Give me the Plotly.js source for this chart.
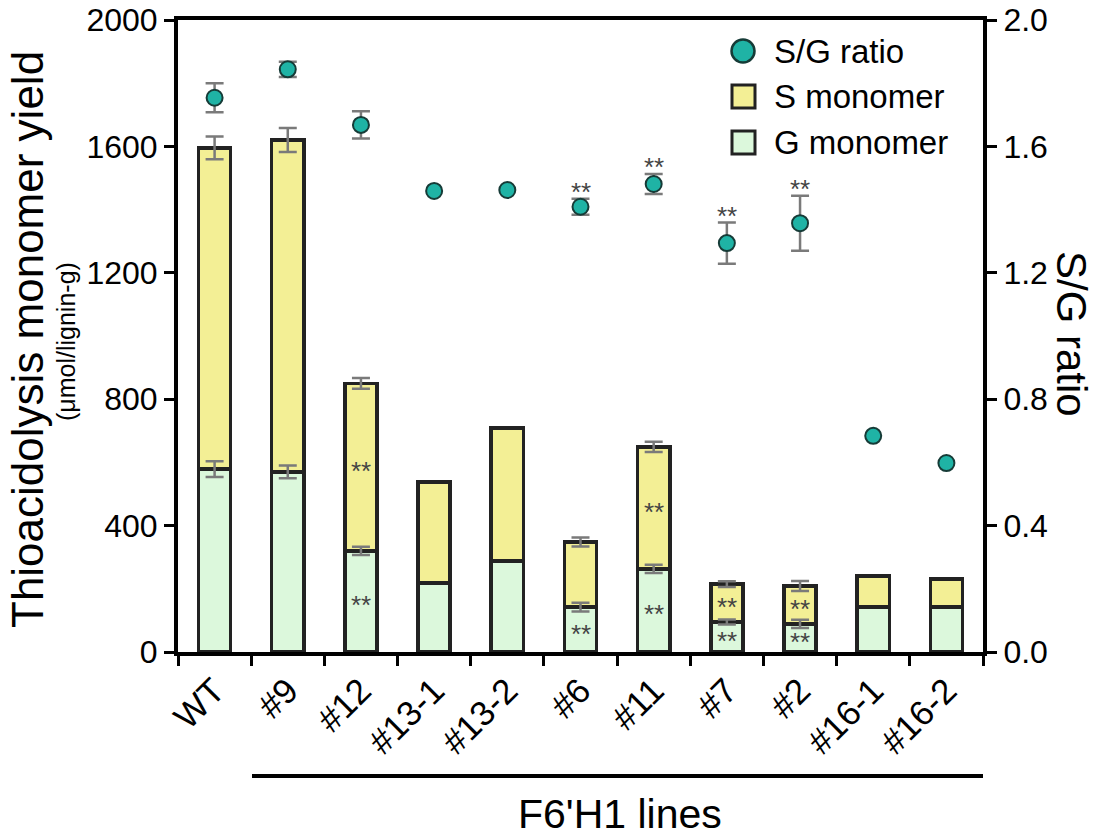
<!DOCTYPE html>
<html>
<head>
<meta charset="utf-8">
<script src="https://cdn.plot.ly/plotly-3.0.1.min.js"></script>
<style>
  html, body { margin: 0; padding: 0; background: #fff; }
  #chart { width: 1099px; height: 839px; }
</style>
</head>
<body>
<div id="chart"></div>
<script>
// lines
const lines = ['WT', '#9', '#12', '#13-1', '#13-2', '#6', '#11', '#7', '#2', '#16-1', '#16-2']

// thioacidolysis monomers, umol/lignin-g
const gMonomer = [579, 570, 320, 218, 288, 142, 263, 95, 89, 142, 142]
const gErr = [25, 20, 13, 0, 0, 14, 13, 8, 13, 0, 0]
const sMonomer = [1016, 1050, 530, 320, 421, 206, 386, 120, 120, 98, 89]
const sErr = [36, 38, 17, 0, 0, 14, 16, 9, 16, 0, 0]

// S/G ratio
const sgRatio = [1.754, 1.844, 1.668, 1.459, 1.462, 1.409, 1.481, 1.294, 1.357, 0.684, 0.598]
const sgErr = [0.046, 0.024, 0.043, 0, 0, 0.025, 0.032, 0.065, 0.087, 0, 0]

// significance (**)
const gSig = [false, false, true, false, false, true, true, true, true, false, false]
const sSig = [false, false, true, false, false, false, true, true, true, false, false]
const sgSig = [false, false, false, false, false, true, true, true, true, false, false]

const FONT = 'Liberation Sans, Arial, sans-serif'
const ERR_COLOR = '#7a7a7a'
const TEAL = '#1fb3a5'

// plot area in pixels, for the hand-made legend and labels
const L = 178, R = 983, T = 20, B = 652
const px = x => (x - L) / (R - L)
const py = y => (B - y) / (B - T)

const totals = gMonomer.map((g, i) => g + sMonomer[i])

// only keep points that have an error bar
function errTrace (ys, errs, yaxis) {
  const idx = errs.map((e, i) => e > 0 ? i : -1).filter(i => i >= 0)
  return {
    type: 'scatter',
    mode: 'markers',
    x: idx.map(i => lines[i]),
    y: idx.map(i => ys[i]),
    yaxis: yaxis,
    marker: { size: 1, color: 'rgba(0,0,0,0)' },
    error_y: { type: 'data', array: idx.map(i => errs[i]), visible: true, color: ERR_COLOR, thickness: 2.5, width: 9 },
    hoverinfo: 'skip',
    showlegend: false
  }
}

const traceG = {
  type: 'bar',
  x: lines,
  y: gMonomer,
  name: 'G monomer',
  marker: { color: '#dcf8dc', line: { color: '#222', width: 3.5 } },
  showlegend: false
}

const traceS = {
  type: 'bar',
  x: lines,
  y: sMonomer,
  name: 'S monomer',
  marker: { color: '#f3ef95', line: { color: '#222', width: 3.5 } },
  showlegend: false
}

const traceRatio = {
  type: 'scatter',
  mode: 'markers',
  x: lines,
  y: sgRatio,
  yaxis: 'y2',
  name: 'S/G ratio',
  marker: { size: 16, color: TEAL, line: { color: '#163b37', width: 2 } },
  error_y: { type: 'data', array: sgErr.map(e => e > 0 ? e : NaN), visible: true, color: ERR_COLOR, thickness: 2.5, width: 9 },
  showlegend: false
}

const data = [traceG, traceS, errTrace(gMonomer, gErr, 'y'), errTrace(totals, sErr, 'y'), traceRatio]

const annotations = []
const star = { text: '**', showarrow: false, font: { family: FONT, size: 26, color: '#444' } }

lines.forEach((name, i) => {
  if (gSig[i]) annotations.push(Object.assign({}, star, { x: name, y: gMonomer[i] / 2, xref: 'x', yref: 'y', yanchor: 'middle', yshift: -4 }))
  if (sSig[i]) annotations.push(Object.assign({}, star, { x: name, y: gMonomer[i] + sMonomer[i] / 2, xref: 'x', yref: 'y', yanchor: 'middle', yshift: -4 }))
  if (sgSig[i]) annotations.push(Object.assign({}, star, { x: name, y: sgRatio[i] + sgErr[i], xref: 'x', yref: 'y2', yanchor: 'bottom', yshift: -10 }))
})

// axis titles
annotations.push(
  { text: 'Thioacidolysis monomer yield', xref: 'paper', yref: 'paper', x: px(27), y: py(340), textangle: -90, showarrow: false, xanchor: 'center', yanchor: 'middle', font: { family: FONT, size: 44, color: '#000' } },
  { text: '(μmol/lignin-g)', xref: 'paper', yref: 'paper', x: px(66), y: py(342), textangle: -90, showarrow: false, xanchor: 'center', yanchor: 'middle', font: { family: FONT, size: 25, color: '#000' } },
  { text: 'S/G ratio', xref: 'paper', yref: 'paper', x: px(1072), y: py(334), textangle: 90, showarrow: false, xanchor: 'center', yanchor: 'middle', font: { family: FONT, size: 42, color: '#000' } },
  { text: "F6'H1 lines", xref: 'paper', yref: 'paper', x: px(620), y: py(814), showarrow: false, xanchor: 'center', yanchor: 'middle', font: { family: FONT, size: 41, color: '#000' } }
)

// legend text
const legendItems = ['S/G ratio', 'S monomer', 'G monomer']
const legendY = [51, 97, 142]
legendItems.forEach((t, k) => {
  annotations.push({ text: t, xref: 'paper', yref: 'paper', x: px(772), y: py(legendY[k]), xanchor: 'left', yanchor: 'middle', showarrow: false, font: { family: FONT, size: 33, color: '#000' } })
})

const shapes = [
  // bracket under transgenic lines
  { type: 'line', xref: 'paper', yref: 'paper', x0: px(252), x1: px(983), y0: py(776), y1: py(776), line: { color: '#000', width: 4 } },
  // legend symbols
  { type: 'circle', xref: 'paper', yref: 'paper', x0: px(731.5), x1: px(754.5), y0: py(62.5), y1: py(39.5), fillcolor: TEAL, line: { color: '#163b37', width: 2.5 } },
  { type: 'rect', xref: 'paper', yref: 'paper', x0: px(732), x1: px(755), y0: py(108), y1: py(85), fillcolor: '#f3ef95', line: { color: '#222', width: 3 } },
  { type: 'rect', xref: 'paper', yref: 'paper', x0: px(732), x1: px(755), y0: py(154), y1: py(131), fillcolor: '#dcf8dc', line: { color: '#222', width: 3 } }
]

const axisStyle = {
  showline: true,
  linecolor: '#000',
  linewidth: 4,
  ticks: 'outside',
  ticklen: 10,
  tickwidth: 3,
  tickcolor: '#000',
  showgrid: false,
  zeroline: false
}

const layout = {
  width: 1099,
  height: 839,
  margin: { l: L, r: 1099 - R, t: T, b: 839 - B },
  paper_bgcolor: '#fff',
  plot_bgcolor: '#fff',
  font: { family: FONT, color: '#000' },
  barmode: 'stack',
  bargap: 0.56,
  showlegend: false,
  xaxis: Object.assign({}, axisStyle, {
    type: 'category',
    range: [-0.5, 10.5],
    tickson: 'boundaries',
    tickangle: -45,
    mirror: true,
    tickfont: { family: FONT, size: 35, color: '#000' }
  }),
  yaxis: Object.assign({}, axisStyle, {
    range: [0, 2000],
    dtick: 400,
    tickfont: { family: FONT, size: 32, color: '#000' }
  }),
  yaxis2: Object.assign({}, axisStyle, {
    overlaying: 'y',
    side: 'right',
    range: [0, 2],
    dtick: 0.4,
    tickformat: '.1f',
    tickfont: { family: FONT, size: 32, color: '#000' }
  }),
  annotations: annotations,
  shapes: shapes
}

Plotly.newPlot('chart', data, layout, { displayModeBar: false, staticPlot: true })
</script>
</body>
</html>
